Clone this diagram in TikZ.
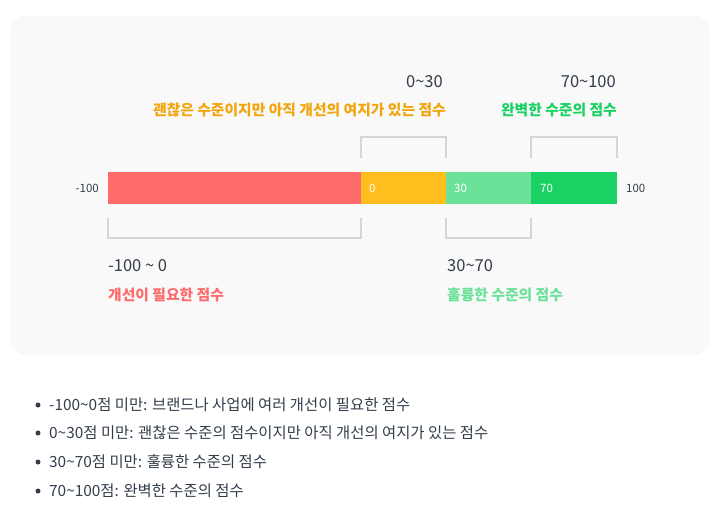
\documentclass[tikz,border=0pt]{standalone}
\usepackage{fontspec}
\setmainfont{Noto Sans CJK KR}
\usetikzlibrary{positioning}

\definecolor{panelbg}{HTML}{F9F9F9}
\definecolor{bracketgray}{HTML}{D1D6DB}
\definecolor{darktext}{HTML}{333D4B}
\definecolor{badred}{HTML}{FF6B6B}
\definecolor{okyellow}{HTML}{FFBE1E}
\definecolor{oktext}{HTML}{F2A50C}
\definecolor{goodgreen}{HTML}{6BE19A}
\definecolor{bestgreen}{HTML}{1AD264}

\tikzset{
  seg/.style={minimum height=32pt, inner sep=0pt, outer sep=0pt},
  inlab/.style={anchor=west, text=white, font=\fontsize{11.5}{13}\selectfont, inner sep=0pt},
  endlab/.style={text=darktext, font=\fontsize{11.5}{13}\selectfont, inner sep=0pt},
  rng/.style={text=darktext, font=\fontsize{16.5}{19}\selectfont, inner sep=0pt},
  desc/.style={font=\bfseries\fontsize{14.8}{17}\selectfont, inner sep=0pt},
  brk/.style={draw=bracketgray, line width=1.2pt},
  item/.style={anchor=west, text=darktext, font=\fontsize{15.4}{18}\selectfont, inner sep=0pt},
  dot/.style={circle, fill=darktext, inner sep=0pt, minimum size=5pt}
}

\begin{document}
\begin{tikzpicture}[x=1pt, y=-1pt, node distance=0pt]
\useasboundingbox (0,0) rectangle (723,506);
\fill[panelbg, rounded corners=16pt] (10,16) rectangle (710,355);

% score bar
\node[seg, fill=badred, minimum width=253pt, anchor=north west] (bad) at (108,172) {};
\node[seg, fill=okyellow, minimum width=85pt, right=of bad] (ok) {};
\node[seg, fill=goodgreen, minimum width=85pt, right=of ok] (good) {};
\node[seg, fill=bestgreen, minimum width=86pt, right=of good] (best) {};

\node[inlab] (l0) at ([xshift=8pt]ok.west) {0};
\node[inlab] (l30) at ([xshift=8pt]good.west) {30};
\node[inlab] (l70) at ([xshift=9pt]best.west) {70};
\node[endlab, left=9pt of bad] (lmin) {-100};
\node[endlab, right=9pt of best] (lmax) {100};

% brackets
\draw[brk] ([yshift=14pt]ok.north west) -- ++(0,-21) -| ([yshift=14pt]ok.north east);
\draw[brk] ([yshift=14pt]best.north west) -- ++(0,-21) -| ([yshift=14pt]best.north east);
\draw[brk] ([yshift=-14pt]bad.south west) -- ++(0,20) -| ([yshift=-14pt]bad.south east);
\draw[brk] ([yshift=-14pt]good.south west) -- ++(0,20) -| ([yshift=-14pt]good.south east);

% labels
\node[rng, anchor=east] (r1) at (443,82) {0\textasciitilde30};
\node[desc, text=oktext, anchor=east] (d1) at (446,110) {괜찮은 수준이지만 아직 개선의 여지가 있는 점수};
\node[rng, anchor=east] (r3) at (616,82) {70\textasciitilde100};
\node[desc, text=bestgreen, anchor=east] (d3) at (617,110) {완벽한 수준의 점수};
\node[rng, anchor=west] (r0) at (108,266) {-100 \textasciitilde{} 0};
\node[desc, text=badred, anchor=west] (d0) at (108,295) {개선이 필요한 점수};
\node[rng, anchor=west] (r2) at (447,266) {30\textasciitilde70};
\node[desc, text=goodgreen, anchor=west] (d2) at (447,295) {훌륭한 수준의 점수};

% list
\foreach \y/\t [count=\i] in {405/{-100\textasciitilde0점 미만: 브랜드나 사업에 여러 개선이 필요한 점수},
    433/{0\textasciitilde30점 미만: 괜찮은 수준의 점수이지만 아직 개선의 여지가 있는 점수},
    462/{30\textasciitilde70점 미만: 훌륭한 수준의 점수},
    491/{70\textasciitilde100점: 완벽한 수준의 점수}}{
  \node[dot] (b\i) at (38,\y) {};
  \node[item] (t\i) at (49,\y) {\t};
}
\end{tikzpicture}
\end{document}
